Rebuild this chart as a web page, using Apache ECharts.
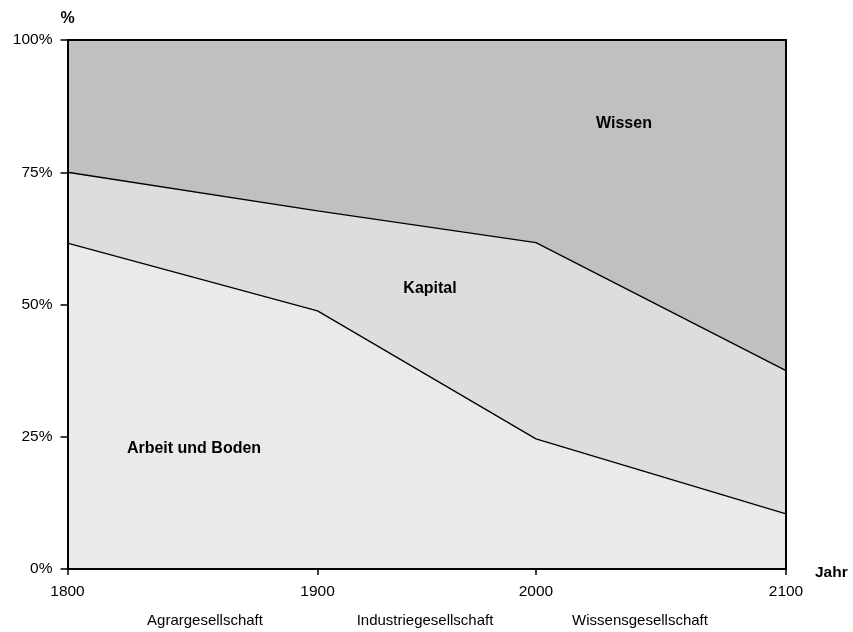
<!DOCTYPE html>
<html>
<head>
<meta charset="utf-8">
<script src="https://cdn.jsdelivr.net/npm/echarts@6/dist/echarts.min.js"></script>
<style>
html,body{margin:0;padding:0;background:#fff;}
#chart{width:853px;height:632px;}
</style>
</head>
<body>
<div id="chart"></div>
<script>
// Data
var years = ['1800', '1900', '2000', '2100'];
// relative position of each year along the (non-uniform) x axis, 0..100
var yearPos = [0, 34.8, 65.2, 100];
var arbeit = [61.6, 48.8, 24.6, 10.4];   // Arbeit und Boden
var kapital = [13.4, 18.9, 37.1, 27.1];  // Kapital
var wissen = [25.0, 32.3, 38.3, 62.5];   // Wissen
var epochs = ['Agrargesellschaft', 'Industriegesellschaft', 'Wissensgesellschaft'];

var font = 'Liberation Sans, Arial, sans-serif';
var fs = 15.5, fsb = 16;

function cum(arrs) {
  return yearPos.map(function (p, i) {
    var s = 0;
    arrs.forEach(function (a) { s += a[i]; });
    return [p, Math.round(s * 100) / 100];
  });
}

var chart = echarts.init(document.getElementById('chart'));

chart.setOption({
  animation: false,
  backgroundColor: '#fff',
  grid: { left: 67.5, right: 67, top: 40, bottom: 63 },
  xAxis: [{
    type: 'value', min: 0, max: 100, z: 10,
    name: 'Jahr', nameLocation: 'end', nameGap: 29,
    nameTextStyle: { fontFamily: font, fontSize: 15.5, fontWeight: 'bold', color: '#000', verticalAlign: 'top', lineHeight: 8 },
    axisLine: { show: true, onZero: false, lineStyle: { color: '#000', width: 2 } },
    axisTick: { show: true, customValues: yearPos, length: 6, lineStyle: { color: '#000', width: 1.5 } },
    axisLabel: {
      customValues: yearPos, margin: 15, fontFamily: font, fontSize: fs, color: '#000',
      formatter: function (v) { var i = yearPos.indexOf(v); return i >= 0 ? years[i] : ''; }
    },
    splitLine: { show: false }
  }, {
    type: 'value', min: 0, max: 100, position: 'top', z: 10,
    axisLine: { show: true, onZero: false, lineStyle: { color: '#000', width: 2 } },
    axisTick: { show: false }, axisLabel: { show: false }, splitLine: { show: false }
  }],
  yAxis: [{
    type: 'value', min: 0, max: 100, interval: 25, z: 10,
    name: '%', nameLocation: 'end', nameGap: 13,
    nameTextStyle: { fontFamily: font, fontSize: fsb, fontWeight: 'bold', color: '#000', align: 'center' },
    axisLine: { show: true, onZero: false, lineStyle: { color: '#000', width: 2 } },
    axisTick: { show: true, length: 7, lineStyle: { color: '#000', width: 1.5 } },
    axisLabel: { margin: 15, fontFamily: font, fontSize: fs, color: '#000', formatter: '{value}%' },
    splitLine: { show: false }
  }, {
    type: 'value', min: 0, max: 100, position: 'right', z: 10,
    axisLine: { show: true, onZero: false, lineStyle: { color: '#000', width: 2 } },
    axisTick: { show: false }, axisLabel: { show: false }, splitLine: { show: false }
  }],
  series: [{
    name: 'Wissen', type: 'line', symbol: 'none', z: 2,
    data: cum([arbeit, kapital, wissen]),
    lineStyle: { color: '#000', width: 0 },
    areaStyle: { color: '#C0C0C0', opacity: 1 }
  }, {
    name: 'Kapital', type: 'line', symbol: 'none', z: 3,
    data: cum([arbeit, kapital]),
    lineStyle: { color: '#000', width: 1.3 },
    areaStyle: { color: '#DDDDDD', opacity: 1 }
  }, {
    name: 'Arbeit und Boden', type: 'line', symbol: 'none', z: 4,
    data: cum([arbeit]),
    lineStyle: { color: '#000', width: 1.3 },
    areaStyle: { color: '#EAEAEA', opacity: 1 }
  }],
  graphic: [
    { type: 'text', x: 624, y: 124, z: 100, style: { text: 'Wissen', font: 'bold ' + fsb + 'px ' + font, fill: '#000', align: 'center', verticalAlign: 'middle' } },
    { type: 'text', x: 430, y: 289, z: 100, style: { text: 'Kapital', font: 'bold ' + fsb + 'px ' + font, fill: '#000', align: 'center', verticalAlign: 'middle' } },
    { type: 'text', x: 194, y: 449, z: 100, style: { text: 'Arbeit und Boden', font: 'bold ' + fsb + 'px ' + font, fill: '#000', align: 'center', verticalAlign: 'middle' } },
    { type: 'text', x: 205, y: 621, style: { text: epochs[0], font: '15px ' + font, fill: '#000', align: 'center', verticalAlign: 'middle' } },
    { type: 'text', x: 425, y: 621, style: { text: epochs[1], font: '15px ' + font, fill: '#000', align: 'center', verticalAlign: 'middle' } },
    { type: 'text', x: 640, y: 621, style: { text: epochs[2], font: '15px ' + font, fill: '#000', align: 'center', verticalAlign: 'middle' } }
  ]
});
</script>
</body>
</html>
